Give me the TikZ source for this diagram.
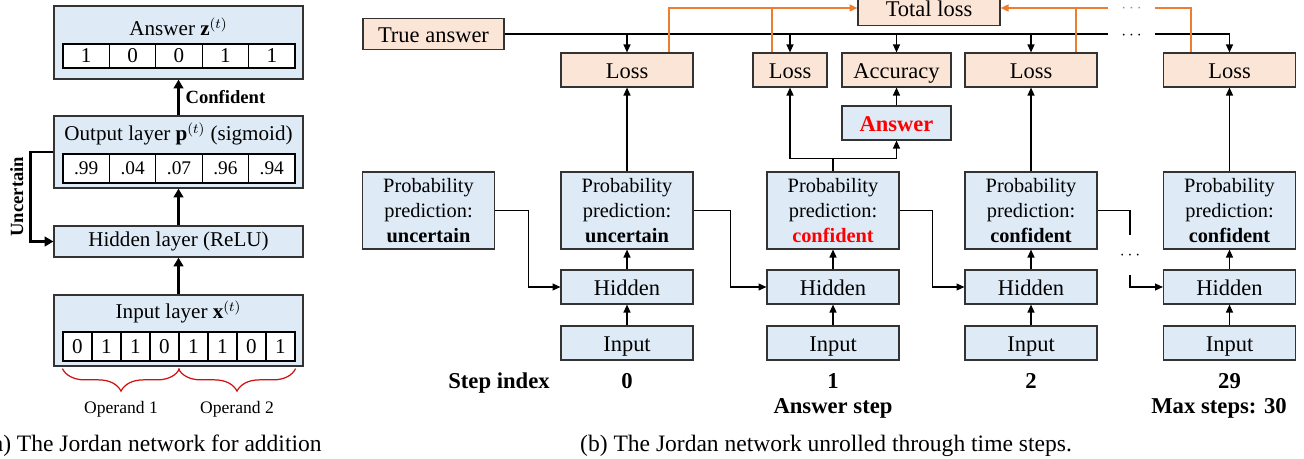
\documentclass[tikz,border=0pt]{standalone}
\usepackage{fontspec}
\setmainfont{Liberation Serif}
\usetikzlibrary{arrows.meta, positioning, decorations.pathreplacing}

\definecolor{boxblue}{HTML}{DEEBF7}
\definecolor{boxpeach}{HTML}{FBE5D6}
\definecolor{lossorange}{HTML}{ED7D31}
\definecolor{bracered}{HTML}{D01010}

\begin{document}
\begin{tikzpicture}[x=0.02cm, y=-0.02cm,
    blk/.style={draw=black!80, line width=0.7pt, fill=boxblue, inner sep=0pt, align=center,
                font=\fontsize{12.8}{14}\selectfont},
    single/.style={blk, text height=9.5pt, text depth=0pt},
    pch/.style={single, fill=boxpeach},
    prob/.style={blk, minimum width=2.64cm, minimum height=1.54cm, font=\fontsize{11.6}{14.2}\selectfont},
    unit/.style={single, minimum width=2.64cm, minimum height=0.68cm},
    cell/.style={draw=black, line width=0.7pt, fill=white, inner sep=0pt, font=\fontsize{12}{14}\selectfont},
    lbl/.style={inner sep=0pt, font=\fontsize{12}{14}\selectfont},
    steplbl/.style={inner sep=0pt, anchor=base, font=\fontsize{12.9}{15}\selectfont\bfseries},
    caption/.style={inner sep=0pt, anchor=base, font=\fontsize{13.4}{16}\selectfont},
    gap/.style={inner sep=0pt, minimum width=0.94cm, text height=0pt, text depth=0pt},
    arr/.style={-{Triangle[length=4.5pt, width=4pt]}},
    line/.style={draw=black, line width=0.6pt},
    lossline/.style={draw=lossorange, line width=0.8pt},
    bigarrow/.style={line width=1.4pt, -{Triangle[length=5pt, width=5.5pt]}},
    conf/.style={font=\fontsize{10.6}{12}\selectfont\bfseries},
    operand/.style={draw=bracered, line width=0.7pt, decorate,
                    decoration={brace, mirror, amplitude=0.45cm}}]
    \useasboundingbox (0,0) rectangle (1304,459);

    % (a) Jordan network
    \node[blk, minimum width=4.98cm, minimum height=1.46cm] (ansbox) at (178.5,42.5) {};
    \node[lbl] (anstitle) at (178.5,27) {Answer $\mathbf{z}^{(t)}$};
    \foreach \v [count=\i] in {1,0,0,1,1}
        \node[cell, minimum width=0.928cm, minimum height=0.48cm] (z\i) at ({63+46.4*\i-23.2},56) {\v};

    \node[blk, minimum width=4.98cm, minimum height=1.44cm] (outbox) at (178.5,152) {};
    \node[lbl] (outtitle) at (178.5,134) {Output layer $\mathbf{p}^{(t)}$ (sigmoid)};
    \foreach \v [count=\i] in {.99,.04,.07,.96,.94}
        \node[cell, minimum width=0.928cm, minimum height=0.58cm, font=\fontsize{11}{13}\selectfont] (p\i) at ({63+46.4*\i-23.2},168.5) {\v};

    \node[blk, minimum width=4.98cm, minimum height=0.62cm, font=\fontsize{12}{14}\selectfont] (hidbox) at (178.5,241.5) {Hidden layer (ReLU)};

    \node[blk, minimum width=4.98cm, minimum height=1.42cm] (inbox) at (178.5,330.5) {};
    \node[lbl] (intitle) at (178.5,312) {Input layer $\mathbf{x}^{(t)}$};
    \foreach \v [count=\i] in {0,1,1,0,1,1,0,1}
        \node[cell, minimum width=0.58cm, minimum height=0.58cm] (x\i) at ({63+29*\i-14.5},346.5) {\v};

    \draw[bigarrow] (inbox) -- (hidbox);
    \draw[bigarrow] (hidbox) -- (outbox);
    \draw[bigarrow] (outbox) -- node[right, conf] {Confident} (ansbox);
    \draw[bigarrow] (outbox.west) -- ++(-23,0) |- node[pos=0.25, above, rotate=90, conf] {Uncertain} (hidbox.west);

    \draw[operand] ([yshift=-0.14cm]x1.south west) -- ([yshift=-0.14cm]x4.south east)
        node[midway, below=0.52cm, font=\fontsize{10}{12}\selectfont] {Operand 1};
    \draw[operand] ([yshift=-0.14cm]x5.south west) -- ([yshift=-0.14cm]x8.south east)
        node[midway, below=0.52cm, font=\fontsize{10}{12}\selectfont] {Operand 2};

    \node[caption, anchor=base east] (capa) at (322,451) {(a) The Jordan network for addition};

    % (b) unrolled network
    \node[pch, minimum width=2.82cm, minimum height=0.62cm] (trueans) at (433.5,34) {True answer};
    \node[pch, minimum width=2.84cm, minimum height=0.7cm] (total) at (929,8) {Total loss};

    \node[pch, minimum width=2.64cm, minimum height=0.68cm] (loss0) at (627,70) {Loss};
    \node[pch, minimum width=1.48cm, minimum height=0.68cm] (loss1) at (790,70) {Loss};
    \node[pch, minimum width=2.18cm, minimum height=0.68cm] (acc) at (896.5,70) {Accuracy};
    \node[pch, minimum width=2.64cm, minimum height=0.68cm] (loss2) at (1031,70) {Loss};
    \node[pch, minimum width=2.64cm, minimum height=0.68cm] (loss29) at (1229.5,70) {Loss};
    \node[single, minimum width=2.18cm, minimum height=0.68cm] (answer) at (896.5,123) {\textbf{\color{red}Answer}};

    \node[prob] (probinit) at (428.5,210.5) {Probability\\prediction:\\\textbf{uncertain}};
    \node[prob] (prob0) at (627,210.5) {Probability\\prediction:\\\textbf{uncertain}};
    \node[prob] (prob1) at (833,210.5) {Probability\\prediction:\\\textbf{\color{red}confident}};
    \node[prob] (prob2) at (1031,210.5) {Probability\\prediction:\\\textbf{confident}};
    \node[prob] (prob29) at (1229.5,210.5) {Probability\\prediction:\\\textbf{confident}};

    \node[unit] (hid0) at (627,287) {Hidden};
    \node[unit] (hid1) at (833,287) {Hidden};
    \node[unit] (hid2) at (1031,287) {Hidden};
    \node[unit] (hid29) at (1229.5,287) {Hidden};
    \node[unit] (input0) at (627,343) {Input};
    \node[unit] (input1) at (833,343) {Input};
    \node[unit] (input2) at (1031,343) {Input};
    \node[unit] (input29) at (1229.5,343) {Input};

    \node[gap] (tdots) at (1131.5,34) {\raisebox{-3pt}{$\cdots$}};
    \node[gap, text=lossorange] (odots) at (1131.5,8) {\raisebox{-2.5pt}{$\cdots$}};
    \node[gap, minimum height=0.8cm] (hdots) at (1130,255) {\raisebox{-2.5pt}{$\cdots$}};

    \node[steplbl] (stepidx) at (499,388) {Step index};
    \node[steplbl] (step0) at (627,388) {0};
    \node[steplbl] (step1) at (833,388) {1};
    \node[steplbl] (step2) at (1031,388) {2};
    \node[steplbl] (step29) at (1229.5,388) {29};
    \node[steplbl] (ansstep) at (833,413) {Answer step};
    \node[steplbl] (maxstep) at (1219,413) {Max steps: 30};

    \node[caption] (capb) at (826,451) {(b) The Jordan network unrolled through time steps.};

    % Draw edges
    \draw[line] (trueans.east) -- (tdots.west);
    \draw[line, arr] (tdots.east) -| (loss29.north);
    \foreach \n in {loss0,loss1,acc,loss2}
        \draw[line, arr] (\n.north |- trueans.east) -- (\n.north);

    \coordinate (o0) at ([xshift=0.84cm]loss0.north);
    \coordinate (o1) at ([xshift=-0.36cm]loss1.north);
    \coordinate (o2) at ([xshift=0.9cm]loss2.north);
    \coordinate (o29) at ([xshift=-0.77cm]loss29.north);
    \draw[lossline, arr] (o0) |- (odots.west -| total.west);
    \draw[lossline] (o1) -- (o1 |- odots.west);
    \draw[lossline, arr] (odots.west) -- (odots.west -| total.east);
    \draw[lossline] (o2) -- (o2 |- odots.west);
    \draw[lossline] (o29) |- (odots.east);

    \foreach \c in {0,1,2,29} {
        \draw[line, arr] (input\c) -- (hid\c);
        \draw[line, arr] (hid\c) -- (prob\c);
    }
    \draw[line, arr] (prob0) -- (loss0);
    \draw[line, arr] (prob2) -- (loss2);
    \draw[line, arr] (prob29) -- (loss29);

    \coordinate (split) at ([yshift=0.26cm]prob1.north);
    \draw[line] (prob1) -- (split);
    \draw[line, arr] (split) -| (loss1);
    \draw[line, arr] (split) -| (answer);
    \draw[line, arr] (answer) -- (acc);

    \draw[line, arr] (probinit.east) -- ++(33,0) |- (hid0.west);
    \draw[line, arr] (prob0.east) -- ++(37,0) |- (hid1.west);
    \draw[line, arr] (prob1.east) -- ++(33,0) |- (hid2.west);
    \draw[line] (prob2.east) -| (hdots.north);
    \draw[line, arr] (hdots.south) |- (hid29.west);
\end{tikzpicture}
\end{document}
